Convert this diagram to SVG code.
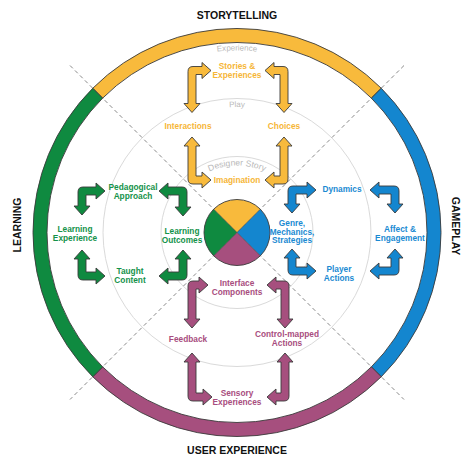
<svg xmlns="http://www.w3.org/2000/svg" width="474" height="466" viewBox="0 0 474 466">
<style>
.t{font-family:"Liberation Sans",Arial,sans-serif;font-weight:bold;font-size:8.3px;text-anchor:middle}
.title{font-family:"Liberation Sans",Arial,sans-serif;font-weight:bold;font-size:10.5px;text-anchor:middle;fill:#111}
.arc{font-family:"Liberation Sans",Arial,sans-serif;font-size:8px;fill:#b9b9b9;text-anchor:middle}
.y{fill:#F6B637}.g{fill:#14924A}.b{fill:#1A8AD2}.p{fill:#A84D7E}
.ay{fill:#F8BA3C}.ag{fill:#0F8A40}.ab{fill:#1486CF}.ap{fill:#A64F7E}
.arr{stroke:#3a3a3a;stroke-width:0.9;stroke-linejoin:miter}
.seg{stroke:#3a3a3a;stroke-width:0.9}
.guide{fill:none;stroke:#dadada;stroke-width:1}
.dash{stroke:#8a8a8a;stroke-width:1;stroke-dasharray:4 3;fill:none}
</style>
<defs>
<path id="arcExp" d="M55,232.5 A182,182 0 0 1 419,232.5"/>
<path id="arcPlay" d="M111.5,232.5 A125.5,125.5 0 0 1 362.5,232.5"/>
<path id="arcDes" d="M170,232.5 A67,67 0 0 1 304,232.5"/>
</defs>
<rect width="474" height="466" fill="#fff"/>
<g id="guides">
<circle class="guide" cx="237" cy="232.5" r="134"/>
<circle class="guide" cx="237" cy="232.5" r="76"/>
<line class="dash" x1="70" y1="65.5" x2="404" y2="399.5"/>
<line class="dash" x1="404" y1="65.5" x2="70" y2="399.5"/>
<text class="arc"><textPath href="#arcExp" startOffset="50%">Experience</textPath></text>
<text class="arc"><textPath href="#arcPlay" startOffset="50%">Play</textPath></text>
<text class="arc" style="font-size:8.6px"><textPath href="#arcDes" startOffset="50%">Designer Story</textPath></text>
</g>
<g id="ring">
<path class="seg ay" d="M92.75,88.25 A204,204 0 0 1 381.25,88.25 L371.35,98.15 A190,190 0 0 0 102.65,98.15 Z"/>
<path class="seg ab" d="M381.25,88.25 A204,204 0 0 1 381.25,376.75 L371.35,366.85 A190,190 0 0 0 371.35,98.15 Z"/>
<path class="seg ap" d="M381.25,376.75 A204,204 0 0 1 92.75,376.75 L102.65,366.85 A190,190 0 0 0 371.35,366.85 Z"/>
<path class="seg ag" d="M92.75,376.75 A204,204 0 0 1 92.75,88.25 L102.65,98.15 A190,190 0 0 0 102.65,366.85 Z"/>
</g>
<g id="hub">
<path class="ay" d="M237,232.5 L213.67,209.17 A33,33 0 0 1 260.33,209.17 Z"/>
<path class="ab" d="M237,232.5 L260.33,209.17 A33,33 0 0 1 260.33,255.83 Z"/>
<path class="ap" d="M237,232.5 L260.33,255.83 A33,33 0 0 1 213.67,255.83 Z"/>
<path class="ag" d="M237,232.5 L213.67,255.83 A33,33 0 0 1 213.67,209.17 Z"/>
<line x1="213.67" y1="209.17" x2="260.33" y2="255.83" stroke="#3a3a3a" stroke-width="0.6"/>
<line x1="260.33" y1="209.17" x2="213.67" y2="255.83" stroke="#3a3a3a" stroke-width="0.6"/>
<circle cx="237" cy="232.5" r="33" fill="none" stroke="#3a3a3a" stroke-width="0.9"/>
</g>
<g id="titles">
<text class="title" x="237" y="19">STORYTELLING</text>
<text class="title" x="237" y="453.5">USER EXPERIENCE</text>
<text class="title" transform="translate(20.5,225) rotate(-90)">LEARNING</text>
<text class="title" transform="translate(452,226) rotate(90)">GAMEPLAY</text>
</g>
<g id="connectors">
<g class="arr ay">
<path transform="translate(192,70.5)" d="M-4,1Q-4,-4 1,-4H10V-8L19,0L10,8V4H4V33H8L0,42L-8,33H-4Z"/>
<path transform="translate(284,70.5) scale(-1,1)" d="M-4,1Q-4,-4 1,-4H10V-8L19,0L10,8V4H4V33H8L0,42L-8,33H-4Z"/>
<path transform="translate(192,180) scale(1,-1)" d="M-4,1Q-4,-4 1,-4H10V-8L19,0L10,8V4H4V34H8L0,43L-8,34H-4Z"/>
<path transform="translate(284,180) scale(-1,-1)" d="M-4,1Q-4,-4 1,-4H10V-8L19,0L10,8V4H4V34H8L0,43L-8,34H-4Z"/>
</g>
<g class="arr ag">
<path transform="translate(82,191)" d="M-4,1Q-4,-4 1,-4H14V-8L23,0L14,8V4H4V15H8L0,24L-8,15H-4Z"/>
<path transform="translate(183,191) scale(-1,1)" d="M-4,1Q-4,-4 1,-4H15V-8L24,0L15,8V4H4V16H8L0,25L-8,16H-4Z"/>
<path transform="translate(82,276) scale(1,-1)" d="M-4,1Q-4,-4 1,-4H14V-8L23,0L14,8V4H4V17H8L0,26L-8,17H-4Z"/>
<path transform="translate(183,276) scale(-1,-1)" d="M-4,1Q-4,-4 1,-4H15V-8L24,0L15,8V4H4V17H8L0,26L-8,17H-4Z"/>
</g>
<g class="arr ab">
<path transform="translate(292,190)" d="M-4,1Q-4,-4 1,-4H15V-8L24,0L15,8V4H4V14H8L0,23L-8,14H-4Z"/>
<path transform="translate(395,190) scale(-1,1)" d="M-4,1Q-4,-4 1,-4H16V-8L25,0L16,8V4H4V14H8L0,23L-8,14H-4Z"/>
<path transform="translate(292,271) scale(1,-1)" d="M-4,1Q-4,-4 1,-4H15V-8L24,0L15,8V4H4V13H8L0,22L-8,13H-4Z"/>
<path transform="translate(395,271) scale(-1,-1)" d="M-4,1Q-4,-4 1,-4H16V-8L25,0L16,8V4H4V13H8L0,22L-8,13H-4Z"/>
</g>
<g class="arr ap">
<path transform="translate(192,285)" d="M-4,1Q-4,-4 1,-4H7V-8L16,0L7,8V4H4V34H8L0,43L-8,34H-4Z"/>
<path transform="translate(285,285) scale(-1,1)" d="M-4,1Q-4,-4 1,-4H9V-8L18,0L9,8V4H4V34H8L0,43L-8,34H-4Z"/>
<path transform="translate(192,397) scale(1,-1)" d="M-4,1Q-4,-4 1,-4H11V-8L20,0L11,8V4H4V35H8L0,44L-8,35H-4Z"/>
<path transform="translate(285,397) scale(-1,-1)" d="M-4,1Q-4,-4 1,-4H9V-8L18,0L9,8V4H4V35H8L0,44L-8,35H-4Z"/>
</g>
</g>
<g id="n-stories" class="t y"><text x="237" y="69">Stories &amp;</text><text x="237" y="77.5">Experiences</text></g>
<g id="n-interactions" class="t y"><text x="188" y="129">Interactions</text></g>
<g id="n-choices" class="t y"><text x="284" y="129">Choices</text></g>
<g id="n-imagination" class="t y"><text x="237" y="183">Imagination</text></g>
<g id="n-pedagogical" class="t g"><text x="133" y="190">Pedagogical</text><text x="133" y="199">Approach</text></g>
<g id="n-learning-exp" class="t g"><text x="75" y="232">Learning</text><text x="75" y="240.5">Experience</text></g>
<g id="n-learning-out" class="t g"><text x="182" y="234">Learning</text><text x="182" y="242.5">Outcomes</text></g>
<g id="n-taught" class="t g"><text x="130" y="274">Taught</text><text x="130" y="282.5">Content</text></g>
<g id="n-dynamics" class="t b"><text x="342" y="192">Dynamics</text></g>
<g id="n-genre" class="t b"><text x="292" y="226">Genre,</text><text x="292" y="234.5">Mechanics,</text><text x="292" y="243">Strategies</text></g>
<g id="n-affect" class="t b"><text x="400" y="232">Affect &amp;</text><text x="400" y="240.5">Engagement</text></g>
<g id="n-player" class="t b"><text x="339" y="272">Player</text><text x="339" y="280.5">Actions</text></g>
<g id="n-interface" class="t p"><text x="237" y="286">Interface</text><text x="237" y="294.5">Components</text></g>
<g id="n-feedback" class="t p"><text x="188" y="342">Feedback</text></g>
<g id="n-control" class="t p"><text x="287" y="337">Control-mapped</text><text x="287" y="345.5">Actions</text></g>
<g id="n-sensory" class="t p"><text x="237" y="396">Sensory</text><text x="237" y="404.5">Experiences</text></g>
</svg>
